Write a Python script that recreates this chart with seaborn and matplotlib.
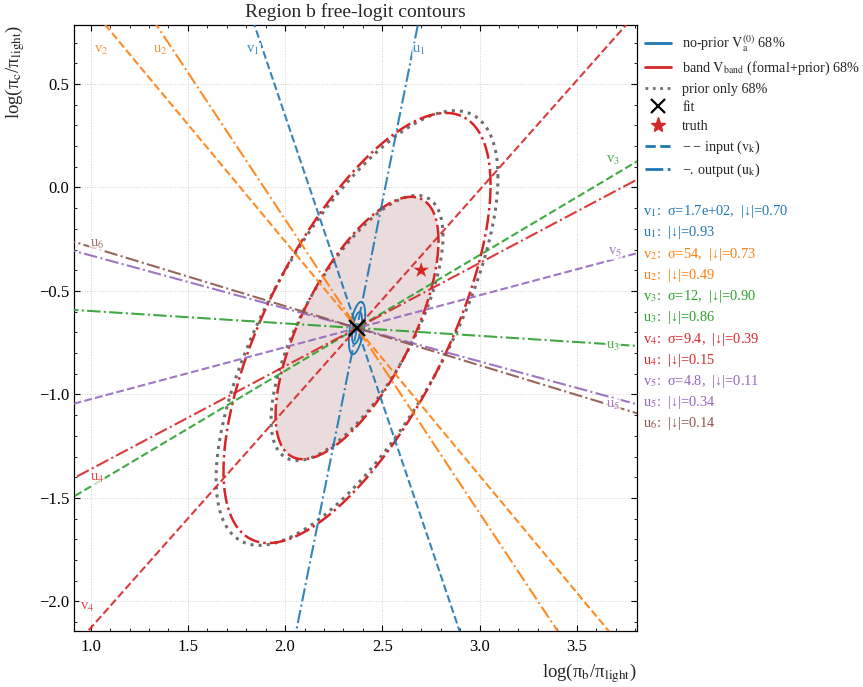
import numpy as np
import matplotlib
matplotlib.use("Agg")
import matplotlib.pyplot as plt
from matplotlib.lines import Line2D
from matplotlib.ticker import MultipleLocator
import seaborn as sns

# ---- data -------------------------------------------------------------
fit_point = [2.370, -0.679]
truth_point = [2.70, -0.40]

# 1-sigma widths and correlation (sigma_x, sigma_y, rho)
band_sigma = [0.2763, 0.418, 0.665]
prior_sigma = [0.2916, 0.4224, 0.694]
noprior_sigma = [0.017, 0.051, 0.50]
chi2_levels = [2.30, 6.18]

# singular directions through the fit, given as slopes d(log pi_c)/d(log pi_b)
v_names = ["v1", "v2", "v3", "v4", "v5"]
v_slopes = [-2.775, -1.131, 0.559, 1.058, 0.251]
v_sigma = ["1.7e+02", "54", "12", "9.4", "4.8"]
v_overlap = [0.70, 0.73, 0.90, 0.39, 0.11]

u_names = ["u1", "u2", "u3", "u4", "u5", "u6"]
u_slopes = [4.68, -1.419, -0.060, 0.498, -0.256, -0.286]
u_overlap = [0.93, 0.49, 0.86, 0.15, 0.34, 0.14]

# where each direction is tagged on the plot (data coordinates)
v_tag_pos = [(1.835, 0.664), (1.053, 0.664), (3.687, 0.133), (0.980, -2.030), (3.698, -0.316)]
u_tag_pos = [(2.690, 0.664), (1.357, 0.664), (3.687, -0.770), (1.032, -1.408), (3.687, -1.051), (1.032, -0.273)]

x_limits = [0.914, 3.810]
y_limits = [-2.143, 0.785]

# ---- style ------------------------------------------------------------
sns.set_theme(style="white")
plt.rcParams["font.family"] = ["Liberation Serif", "DejaVu Serif"]
plt.rcParams["mathtext.fontset"] = "stix"
plt.rcParams["axes.unicode_minus"] = True

palette = sns.color_palette("tab10")
band_color = palette[3]
prior_color = "#6e6e6e"
noprior_color = palette[0]

fig = plt.figure(figsize=(8.63, 6.87), dpi=100)
ax = fig.add_axes([0.0857, 0.0815, 0.6524, 0.8821])


def ellipse_xy(sig, level, n=400):
    sx, sy, rho = sig
    cov = np.array([[sx * sx, rho * sx * sy], [rho * sx * sy, sy * sy]])
    L = np.linalg.cholesky(cov)
    t = np.linspace(0, 2 * np.pi, n)
    pts = (L @ np.vstack([np.cos(t), np.sin(t)])) * np.sqrt(level)
    return fit_point[0] + pts[0], fit_point[1] + pts[1]


# filled inner band region
xf, yf = ellipse_xy(band_sigma, chi2_levels[0])
ax.fill(xf, yf, color="#eadcdd", lw=0, zorder=1)

# prior-only, band and no-prior contours
for lev in chi2_levels:
    xp, yp = ellipse_xy(prior_sigma, lev)
    sns.lineplot(x=xp, y=yp, sort=False, estimator=None, ax=ax, color=prior_color,
                 linestyle=":", lw=2.2, zorder=2)
    xb, yb = ellipse_xy(band_sigma, lev)
    sns.lineplot(x=xb, y=yb, sort=False, estimator=None, ax=ax, color=band_color,
                 linestyle="-.", lw=1.8, zorder=3)
    xn, yn = ellipse_xy(noprior_sigma, lev)
    sns.lineplot(x=xn, y=yn, sort=False, estimator=None, ax=ax, color=noprior_color,
                 linestyle="-", lw=1.3, zorder=4)


def direction_line(slope, span=8.0):
    d = np.array([1.0, slope]) / np.hypot(1.0, slope)
    t = np.array([-span, span])
    return fit_point[0] + t * d[0], fit_point[1] + t * d[1]


tag_box = dict(facecolor="white", edgecolor="none", alpha=0.7, pad=0.5)

for k, (name, s) in enumerate(zip(v_names, v_slopes)):
    xs, ys = direction_line(s)
    sns.lineplot(x=xs, y=ys, sort=False, estimator=None, ax=ax, color=palette[k],
                 linestyle="--", lw=1.5, alpha=0.9, zorder=5)
    ax.text(*v_tag_pos[k], f"v$_{{{name[1:]}}}$", color=palette[k], fontsize=10.5,
            ha="center", va="center", zorder=7, bbox=tag_box, alpha=0.85)

for k, (name, s) in enumerate(zip(u_names, u_slopes)):
    xs, ys = direction_line(s)
    sns.lineplot(x=xs, y=ys, sort=False, estimator=None, ax=ax, color=palette[k],
                 linestyle="-.", lw=1.5, alpha=0.9, zorder=5)
    ax.text(*u_tag_pos[k], f"u$_{{{name[1:]}}}$", color=palette[k], fontsize=10.5,
            ha="center", va="center", zorder=7, bbox=tag_box, alpha=0.85)

# fit and truth markers
ax.plot(fit_point[0], fit_point[1], marker="x", color="black", ms=12, mew=1.7,
        ls="none", zorder=9)
sns.scatterplot(x=[truth_point[0]], y=[truth_point[1]], marker="*", s=140,
                color=band_color, edgecolor="none", ax=ax, zorder=9)

ax.set_xlim(*x_limits)
ax.set_ylim(*y_limits)

ax.xaxis.set_major_locator(MultipleLocator(0.5))
ax.xaxis.set_minor_locator(MultipleLocator(0.1))
ax.yaxis.set_major_locator(MultipleLocator(0.5))
ax.yaxis.set_minor_locator(MultipleLocator(0.1))
ax.tick_params(which="both", direction="in", top=True, right=True,
               bottom=True, left=True, colors="black", labelsize=12)
ax.tick_params(which="major", length=4, width=0.8)
ax.tick_params(which="minor", length=2.2, width=0.6)
ax.tick_params(axis="x", which="major", pad=6)
for sp in ax.spines.values():
    sp.set_color("black")
    sp.set_linewidth(0.9)
ax.grid(True, which="major", linestyle=":", color="#cfcfcf", lw=0.7)
ax.set_axisbelow(True)

ax.set_title("Region b free-logit contours", fontsize=14, pad=6)
ax.set_xlabel("log(π$_\\mathrm{b}$/π$_\\mathrm{light}$)", fontsize=13.5, loc="right")
ax.set_ylabel("log(π$_\\mathrm{c}$/π$_\\mathrm{light}$)", fontsize=13.5, loc="top")
ax.yaxis.set_label_coords(-0.083, 1.0)

handles = [
    Line2D([], [], color=noprior_color, lw=2),
    Line2D([], [], color=band_color, lw=2),
    Line2D([], [], color=prior_color, lw=2, ls=":"),
    Line2D([], [], color="black", marker="x", ls="none", ms=10, mew=1.6),
    Line2D([], [], color=band_color, marker="*", ls="none", ms=11),
    Line2D([], [], color=noprior_color, lw=2, ls="--"),
    Line2D([], [], color=noprior_color, lw=2, ls="-."),
]
labels = [
    "no-prior $\\mathrm{V}_\\mathrm{a}^{(0)}$ 68%",
    "band $\\mathrm{V}_\\mathrm{band}$ (formal+prior) 68%",
    "prior only 68%",
    "fit",
    "truth",
    "\u2212\u2009\u2212 input ($\\mathrm{v}_\\mathrm{k}$)",
    "\u2212. output ($\\mathrm{u}_\\mathrm{k}$)",
]
ax.legend(handles, labels, loc="upper left", bbox_to_anchor=(1.0, 1.0),
          frameon=False, fontsize=10.2, handlelength=1.8, handletextpad=0.8,
          labelspacing=0.4, borderaxespad=0.2)

# per-direction summary on the right
lines_txt = []
for k in range(len(u_names)):
    if k < len(v_names):
        lines_txt.append((f"v$_{{{k + 1}}}$:  σ={v_sigma[k]},  |↓|={v_overlap[k]:.2f}", palette[k]))
    lines_txt.append((f"u$_{{{k + 1}}}$:  |↓|={u_overlap[k]:.2f}", palette[k]))

y0 = 1 - 211.7 / 687
dy = 21.23 / 687
for i, (txt, col) in enumerate(lines_txt):
    fig.text(0.745, y0 - i * dy, txt, color=col, fontsize=10.4, ha="left", va="center")

fig.savefig("out.png", dpi=100)
